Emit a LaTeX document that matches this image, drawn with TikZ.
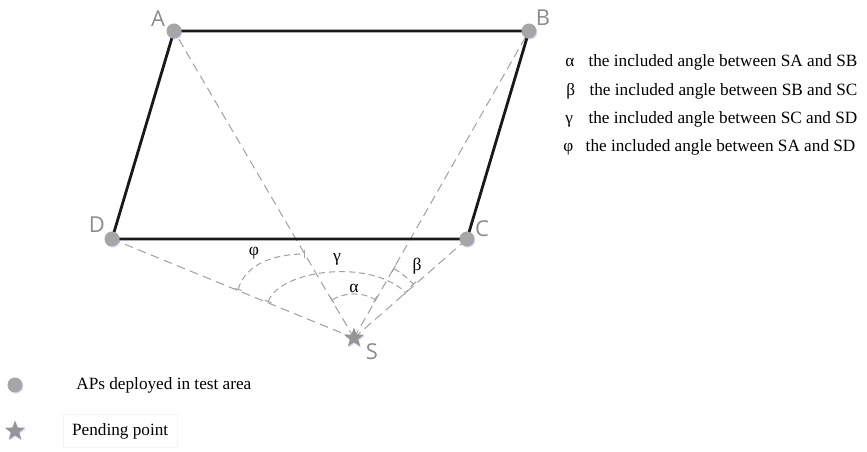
\documentclass[tikz,border=0pt]{standalone}
\usepackage{fontspec}
\setmainfont{Liberation Serif}
\newfontfamily\ptfont{Open Sans}
\usetikzlibrary{shapes.geometric,shadows,arrows.meta,backgrounds}

\definecolor{apgray}{HTML}{A6A6A6}
\definecolor{stargray}{HTML}{959595}
\definecolor{lblgray}{HTML}{8C8C8C}
\definecolor{raygray}{HTML}{A3A3A3}

\tikzset{
  ap/.style={circle, fill=apgray, inner sep=0pt, minimum size=0.3cm,
    drop shadow={shadow xshift=0.5pt, shadow yshift=-0.7pt, fill=blue!45, opacity=0.3}},
  pend/.style={star, star points=5, star point ratio=2.4, fill=stargray, inner sep=0pt,
    minimum size=0.42cm,
    drop shadow={shadow xshift=0.5pt, shadow yshift=-0.7pt, fill=blue!45, opacity=0.3}},
  ptlbl/.style={font=\ptfont\fontsize{12.5}{13}\selectfont, text=lblgray, inner sep=0pt},
  side/.style={line width=1.6pt, black!90},
  ray/.style={raygray, line width=0.6pt, dash pattern=on 5pt off 3pt},
  angarc/.style={raygray, line width=0.6pt, dash pattern=on 3.5pt off 2.2pt,
    {Bar[width=4pt]}-{Bar[width=4pt]}},
  anglbl/.style={font=\fontsize{10}{11}\selectfont, inner sep=0pt},
  note/.style={font=\fontsize{9.8}{11}\selectfont, inner sep=0pt, anchor=base west},
}

\begin{document}
\begin{tikzpicture}[x=0.02cm, y=-0.02cm]
\useasboundingbox (0,0) rectangle (867,452);

% Access points and pending point
\node[ap] (A) at (174,31) {};
\node[ap] (B) at (529,31) {};
\node[ap] (C) at (467,239) {};
\node[ap] (D) at (112,239) {};
\node[pend] (S) at (354,338) {};

\begin{scope}[on background layer]
% Rays from S
\draw[ray] (S.center) -- (A.center);
\draw[ray] (S.center) -- (B.center);
\draw[ray] (S.center) -- (C.center);
\draw[ray] (S.center) -- (D.center);
% Test area
\draw[side] (A.center) -- (B.center) -- (C.center) -- (D.center) -- cycle;
\end{scope}

% Point labels
\node[ptlbl] (labA) at (158,19) {A};
\node[ptlbl] (labB) at (543,18) {B};
\node[ptlbl] (labC) at (482,229) {C};
\node[ptlbl] (labD) at (97,225) {D};
\node[ptlbl] (labS) at (372,352) {S};

% Included angles
\draw[angarc] ([shift={(-120.5:44)}]S.center) arc[start angle=-120.5, end angle=-60.5, radius=44];
\draw[angarc] ([shift={(-60.5:80)}]S.center) arc[start angle=-60.5, end angle=-41.8, radius=80];
\draw[angarc] (268,302) .. controls (280,270) and (370,258) .. (406,293);
\draw[angarc] (238,290) .. controls (246,262) and (278,254) .. (305,254);

\node[anglbl] (alpha) at (354,288) {α};
\node[anglbl] (beta) at (417,266) {β};
\node[anglbl] (gamma) at (337,259) {γ};
\node[anglbl] (phi) at (254,253) {φ};

% Legend
\node[note] (la) at (565,67) {\makebox[1.35em][l]{α}the included angle between SA and SB};
\node[note] (lb) at (566,95.5) {\makebox[1.35em][l]{β}the included angle between SB and SC};
\node[note] (lc) at (565,123.5) {\makebox[1.35em][l]{γ}the included angle between SC and SD};
\node[note] (ld) at (563,151.5) {\makebox[1.3em][l]{φ}the included angle between SA and SD};

\node[ap] (keyap) at (15,385) {};
\node[note, anchor=west] (keyaptxt) at (76,385) {APs deployed in test area};
\node[pend] (keyst) at (15,431) {};
\node[note, anchor=west, draw=gray!8, inner sep=5pt] (keysttxt) at (63,431) {Pending point};

\end{tikzpicture}
\end{document}
